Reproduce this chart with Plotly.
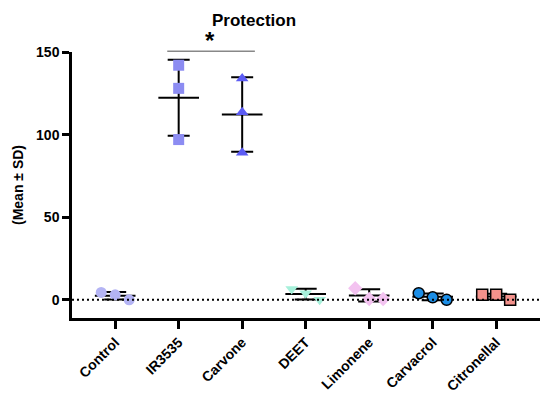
import numpy as np
import plotly.graph_objects as go

groups = ["Control", "IR3535", "Carvone", "DEET", "Limonene", "Carvacrol", "Citronellal"]
control = [4.5, 3.0, 0.0]
ir3535 = [142.0, 128.0, 97.0]
carvone = [134.0, 113.5, 89.0]
deet = [6.5, 4.0, 0.0]
limonene = [7.0, 0.5, 0.5]
carvacrol = [4.0, 1.5, 0.0]
citronellal = [3.0, 3.0, 0.0]
y_ticks = [0, 50, 100, 150]

series = [control, ir3535, carvone, deet, limonene, carvacrol, citronellal]
styles = [
    dict(symbol="circle", color="#b4b4f4", line=dict(width=0)),
    dict(symbol="square", color="#8c8cf2", line=dict(width=0)),
    dict(symbol="triangle-up", color="#5c5cf4", line=dict(width=0)),
    dict(symbol="triangle-down", color="#a6f0da", line=dict(width=0)),
    dict(symbol="diamond", color="#f3c2f0", line=dict(width=0)),
    dict(symbol="circle", color="#1c8ee6", line=dict(width=1.5, color="black")),
    dict(symbol="square", color="#f4928c", line=dict(width=1.5, color="black")),
]

FONT = "Arial, 'Liberation Sans', sans-serif"
Y_MIN, Y_MAX = -11, 150

fig = go.Figure()

# zero reference line
fig.add_hline(y=0, line=dict(color="black", width=2, dash="2px,3px"))

for i, (vals, st) in enumerate(zip(series, styles)):
    vals = np.array(vals)
    mean, sd = vals.mean(), vals.std(ddof=1)
    # spread overlapping points sideways like Prism does
    spread = 0.22 if vals.max() - vals.min() < 20 else 0.0
    xs = i + (np.arange(len(vals)) - 1) * spread
    fig.add_trace(go.Scatter(
        x=[i], y=[mean], mode="markers",
        marker=dict(size=1, color="rgba(0,0,0,0)"),
        error_y=dict(type="data", array=[sd], color="black", thickness=2, width=11),
        showlegend=False,
    ))
    fig.add_trace(go.Scatter(
        x=[i - 0.32, i + 0.32], y=[mean, mean], mode="lines",
        line=dict(color="black", width=2), showlegend=False,
    ))
    fig.add_trace(go.Scatter(
        x=xs, y=vals, mode="markers",
        marker=dict(size=11, **st), showlegend=False,
    ))

# significance bar between IR3535 and Carvone
sig_y = (150.5 - Y_MIN) / (Y_MAX - Y_MIN)
fig.add_shape(type="line", xref="x", yref="paper", x0=0.82, x1=2.2, y0=sig_y, y1=sig_y,
              line=dict(color="#888888", width=1.5))
fig.add_annotation(x=1.5, xref="x", y=sig_y, yref="paper", text="<b>*</b>", showarrow=False,
                   yanchor="bottom", yshift=-5, font=dict(family=FONT, size=24, color="black"))

# the page adds an 8px body margin, so everything is shifted by that much
fig.update_layout(
    width=550, height=405,
    margin=dict(l=64, r=18, t=44, b=95),
    paper_bgcolor="white", plot_bgcolor="white",
    title=dict(text="<b>Protection</b>", x=246 / 550, xanchor="center",
               y=1 - 12 / 405, yanchor="middle",
               font=dict(family=FONT, size=17, color="black")),
    font=dict(family=FONT, color="black"),
)
fig.update_xaxes(
    range=[-0.68, 6.69], tickvals=list(range(len(groups))),
    ticktext=[f"<b>{g}</b>" for g in groups], tickangle=-45,
    tickfont=dict(family=FONT, size=14, color="black"),
    showline=True, linecolor="black", linewidth=2.5,
    ticks="outside", ticklen=8, tickwidth=2.5, tickcolor="black",
    showgrid=False, zeroline=False, automargin=False,
)
fig.update_yaxes(
    range=[Y_MIN, Y_MAX], tickvals=y_ticks, ticktext=[f"<b>{t}</b>" for t in y_ticks],
    tickfont=dict(family=FONT, size=14, color="black"),
    title=dict(text="<b>(Mean ± SD)</b>", font=dict(family=FONT, size=14, color="black"),
               standoff=10),
    showline=True, linecolor="black", linewidth=2.5,
    ticks="outside", ticklen=7, tickwidth=2.5, tickcolor="black",
    showgrid=False, zeroline=False, automargin=False,
)

fig.write_html("out.html")
